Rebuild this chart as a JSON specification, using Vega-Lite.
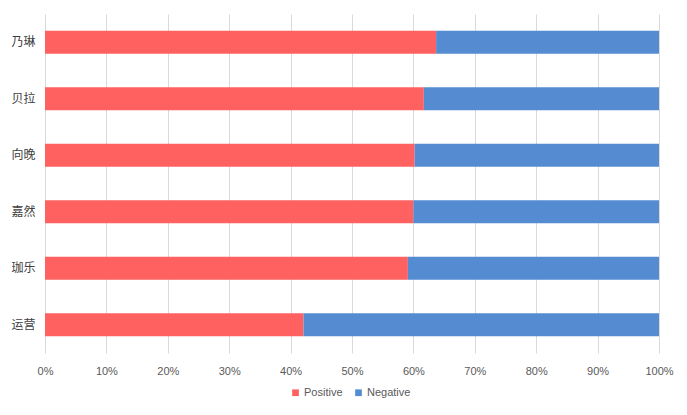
{
  "$schema": "https://vega.github.io/schema/vega-lite/v6.json",
  "autosize": "none",
  "padding": {"left": 45, "top": 14, "right": 28, "bottom": 62},
  "width": 614,
  "height": 339,
  "background": "white",
  "data": {
    "values": [
      {"member": "乃琳", "sentiment": "Positive", "share": 0.637},
      {"member": "乃琳", "sentiment": "Negative", "share": 0.363},
      {"member": "贝拉", "sentiment": "Positive", "share": 0.617},
      {"member": "贝拉", "sentiment": "Negative", "share": 0.383},
      {"member": "向晚", "sentiment": "Positive", "share": 0.602},
      {"member": "向晚", "sentiment": "Negative", "share": 0.398},
      {"member": "嘉然", "sentiment": "Positive", "share": 0.600},
      {"member": "嘉然", "sentiment": "Negative", "share": 0.400},
      {"member": "珈乐", "sentiment": "Positive", "share": 0.591},
      {"member": "珈乐", "sentiment": "Negative", "share": 0.409},
      {"member": "运营", "sentiment": "Positive", "share": 0.421},
      {"member": "运营", "sentiment": "Negative", "share": 0.579}
    ]
  },
  "mark": {"type": "bar"},
  "encoding": {
    "y": {
      "field": "member",
      "type": "nominal",
      "sort": ["乃琳", "贝拉", "向晚", "嘉然", "珈乐", "运营"],
      "scale": {"paddingInner": 0.593, "paddingOuter": 0.2965},
      "axis": {
        "title": null,
        "domain": false,
        "ticks": false,
        "labelPadding": 10,
        "labelFont": "Noto Sans CJK SC",
        "labelFontSize": 12,
        "labelColor": "#404040"
      }
    },
    "x": {
      "field": "share",
      "type": "quantitative",
      "stack": "normalize",
      "scale": {"domain": [0, 1], "nice": false},
      "axis": {
        "title": null,
        "format": ".0%",
        "values": [0, 0.1, 0.2, 0.3, 0.4, 0.5, 0.6, 0.7, 0.8, 0.9, 1],
        "labelOverlap": false,
        "labelFlush": false,
        "domain": false,
        "ticks": false,
        "grid": true,
        "gridColor": "#d9d9d9",
        "gridWidth": 1,
        "labelPadding": 12,
        "labelFont": "Liberation Sans",
        "labelFontSize": 11,
        "labelColor": "#595959"
      }
    },
    "color": {
      "field": "sentiment",
      "type": "nominal",
      "sort": ["Positive", "Negative"],
      "scale": {"domain": ["Positive", "Negative"], "range": ["#ff6161", "#548bd1"]},
      "legend": {
        "title": null,
        "orient": "none",
        "legendX": 245,
        "legendY": 373,
        "direction": "horizontal",
        "symbolType": "square",
        "symbolSize": 45,
        "symbolStrokeWidth": 0,
        "labelFont": "Liberation Sans",
        "labelFontSize": 11,
        "labelColor": "#595959",
        "labelOffset": 3,
        "columnPadding": 10
      }
    },
    "order": {"field": "sentiment", "sort": "descending"}
  },
  "config": {
    "view": {"stroke": null}
  }
}
